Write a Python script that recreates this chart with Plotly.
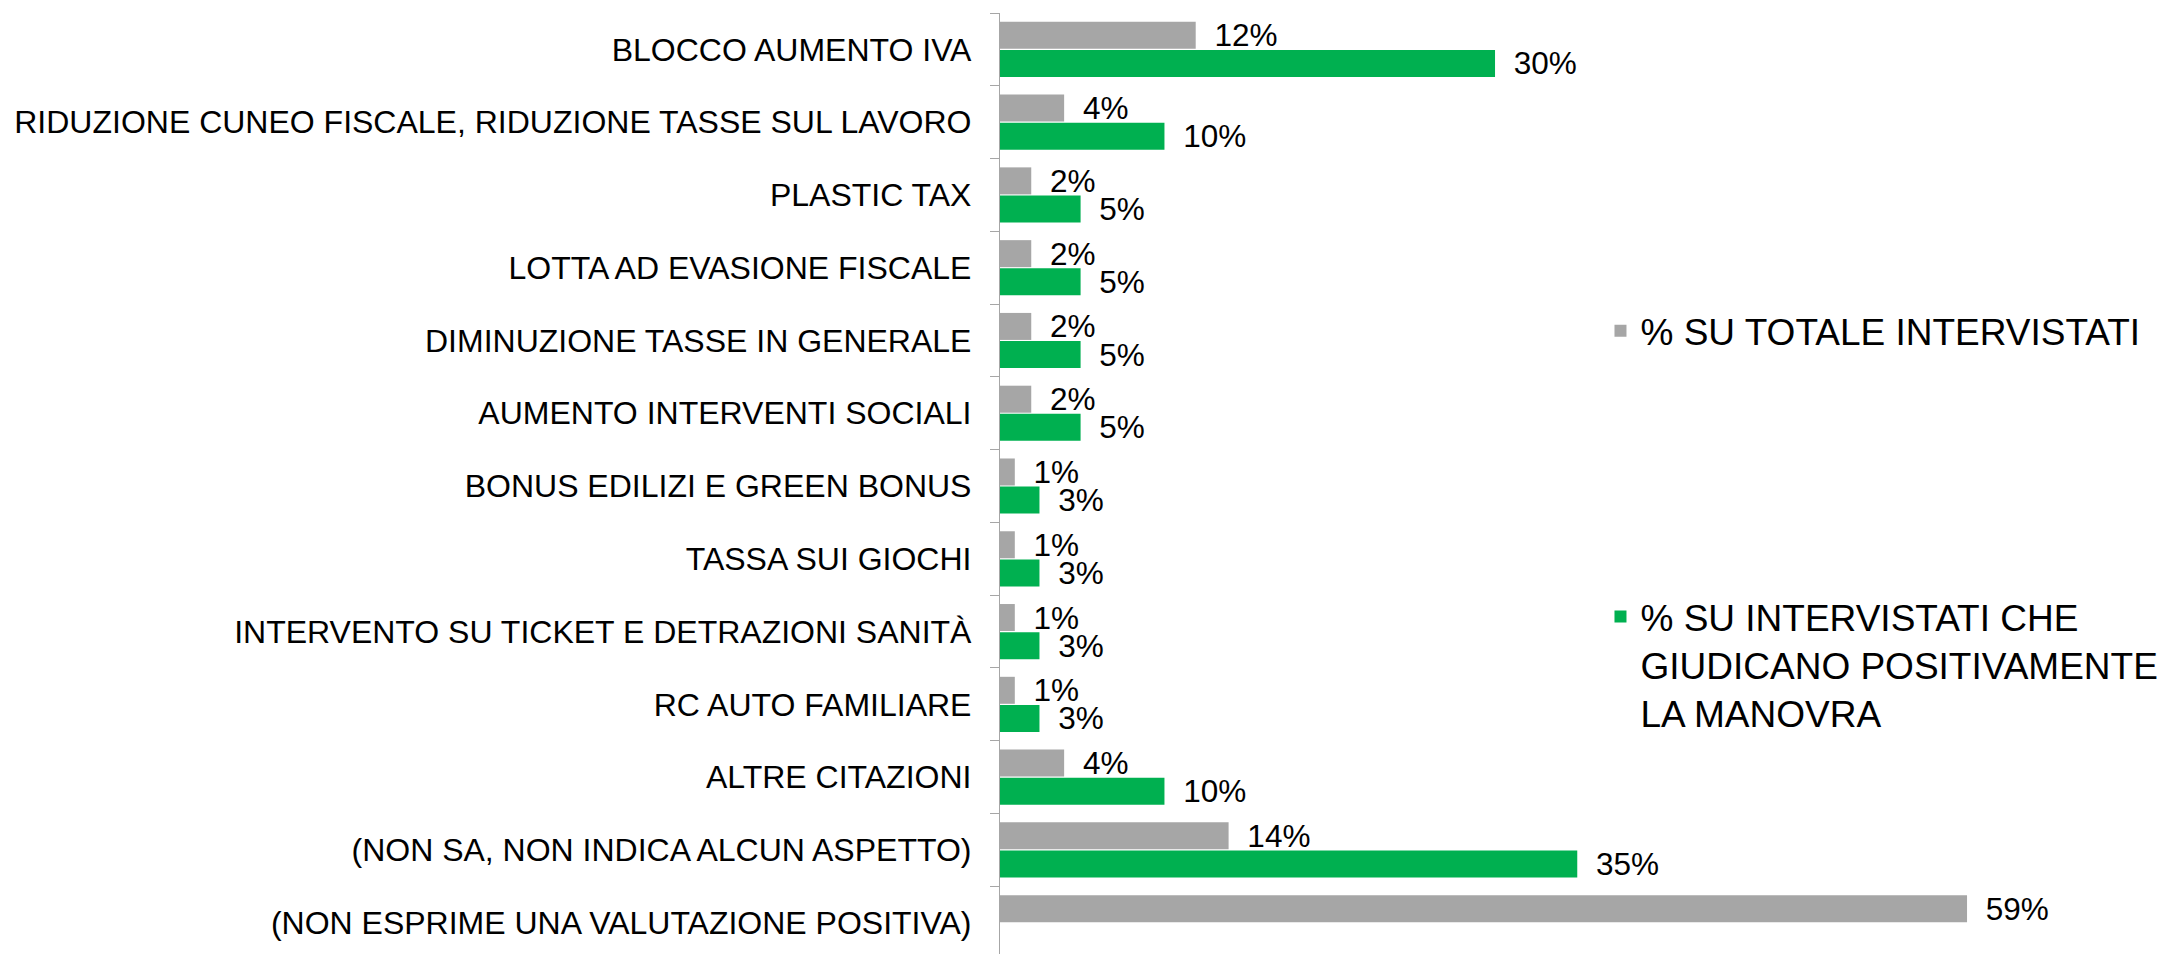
import plotly.graph_objects as go

categories = [
    "BLOCCO AUMENTO IVA",
    "RIDUZIONE CUNEO FISCALE, RIDUZIONE TASSE SUL LAVORO",
    "PLASTIC TAX",
    "LOTTA AD EVASIONE FISCALE",
    "DIMINUZIONE TASSE IN GENERALE",
    "AUMENTO INTERVENTI SOCIALI",
    "BONUS EDILIZI E GREEN BONUS",
    "TASSA SUI GIOCHI",
    "INTERVENTO SU TICKET E DETRAZIONI SANITÀ",
    "RC AUTO FAMILIARE",
    "ALTRE CITAZIONI",
    "(NON SA, NON INDICA ALCUN ASPETTO)",
    "(NON ESPRIME UNA VALUTAZIONE POSITIVA)",
]

totale_values = [11.9, 3.9, 1.9, 1.9, 1.9, 1.9, 0.9, 0.9, 0.9, 0.9, 3.9, 13.9, 58.8]
totale_labels = ["12%", "4%", "2%", "2%", "2%", "2%", "1%", "1%", "1%", "1%", "4%", "14%", "59%"]

positivi_values = [30.1, 10.0, 4.9, 4.9, 4.9, 4.9, 2.4, 2.4, 2.4, 2.4, 10.0, 35.1, None]
positivi_labels = ["30%", "10%", "5%", "5%", "5%", "5%", "3%", "3%", "3%", "3%", "10%", "35%", ""]

series_names = [
    "% SU TOTALE INTERVISTATI",
    "% SU INTERVISTATI CHE<br>GIUDICANO POSITIVAMENTE<br>LA MANOVRA",
]

GRAY = "#A6A6A6"
GREEN = "#00B050"
FONT = "Liberation Sans, Arial, sans-serif"
PAD = "\u2002"

fig = go.Figure()
fig.add_trace(go.Bar(
    y=categories, x=totale_values, orientation="h",
    name=series_names[0], marker=dict(color=GRAY, line=dict(width=0)),
    text=[PAD + t for t in totale_labels], textposition="outside",
    textfont=dict(family=FONT, size=31.5, color="black"),
    cliponaxis=False, constraintext="none", legend="legend",
    showlegend=True, hoverinfo="skip",
))
fig.add_trace(go.Bar(
    y=categories, x=positivi_values, orientation="h",
    name=series_names[1], marker=dict(color=GREEN, line=dict(width=0)),
    text=[PAD + t if t else "" for t in positivi_labels], textposition="outside",
    textfont=dict(family=FONT, size=31.5, color="black"),
    cliponaxis=False, constraintext="none", legend="legend2",
    showlegend=True, hoverinfo="skip",
))

n = len(categories)
fig.update_layout(
    width=2167, height=954,
    showlegend=True,
    margin=dict(l=992, r=180, t=5, b=0, pad=0),
    paper_bgcolor="white", plot_bgcolor="white",
    barmode="group", bargap=0.227, bargroupgap=0.04,
    font=dict(family=FONT, size=32, color="black"),
    xaxis=dict(range=[0, 60.5], visible=False, showgrid=False, zeroline=False, fixedrange=True),
    yaxis=dict(
        type="category", categoryorder="array", categoryarray=categories,
        range=[n - 0.46, -0.5],
        showline=True, linecolor=GRAY, linewidth=1.3,
        ticks="outside", ticklen=9, tickcolor=GRAY, tickwidth=1.3,
        tickson="boundaries", ticklabelstandoff=21,
        tickfont=dict(family=FONT, size=32, color="black"),
        showgrid=False, zeroline=False,
    ),
    legend=dict(
        x=0.6035, y=0.6974, xanchor="left", yanchor="top", valign="top",
        font=dict(family=FONT, size=37, color="black"),
        bgcolor="rgba(0,0,0,0)", borderwidth=0,
    ),
    legend2=dict(
        x=0.6035, y=0.3962, xanchor="left", yanchor="top", valign="top",
        font=dict(family=FONT, size=37, color="black"),
        bgcolor="rgba(0,0,0,0)", borderwidth=0,
    ),
)

fig.write_html("out.html")
